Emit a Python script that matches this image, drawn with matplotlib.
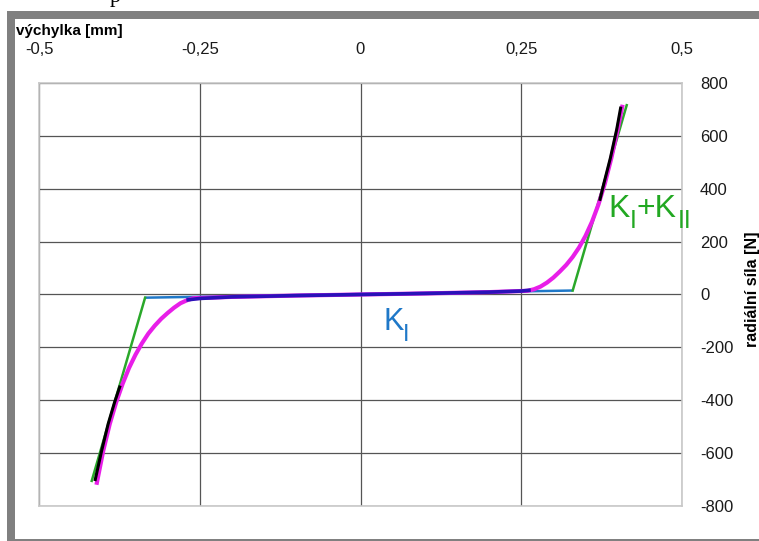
import matplotlib
matplotlib.use("Agg")
import matplotlib.pyplot as plt
import matplotlib.transforms as mtransforms
from matplotlib.patches import Rectangle

plt.rcParams['font.family'] = ['Liberation Sans', 'DejaVu Sans']
plt.rcParams['axes.unicode_minus'] = False

# --- data ---
x_ticks = [-0.5, -0.25, 0, 0.25, 0.5]
x_ticklabels = ['-0,5', '-0,25', '0', '0,25', '0,5']
y_ticks = [-800, -600, -400, -200, 0, 200, 400, 600, 800]
y_ticklabels = ['-800', '-600', '-400', '-200', '0', '200', '400', '600', '800']

# K_I (linear, blue)
ki_x = [-0.335, 0.33]
ki_y = [-12, 15]

# K_I + K_II (green, outer branches)
kii_left_x = [-0.418, -0.335]
kii_left_y = [-705, -12]
kii_right_x = [0.33, 0.414]
kii_right_y = [15, 716]

# smooth nonlinear characteristic (magenta)
mag_x = [-0.41, -0.40, -0.39, -0.38, -0.37, -0.36, -0.35, -0.34, -0.33, -0.32,
         -0.31, -0.30, -0.29, -0.28, -0.27, -0.26, -0.2, -0.1, 0.0, 0.1, 0.2,
         0.26, 0.27, 0.28, 0.29, 0.30, 0.31, 0.32, 0.33, 0.34, 0.35, 0.36,
         0.37, 0.38, 0.39, 0.40, 0.407]
mag_y = [-712, -590, -490, -408, -338, -278, -228, -185, -148, -118,
         -92, -70, -50, -33, -22, -14, -9, -4, 0, 4, 9,
         14, 20, 30, 45, 64, 87, 112, 142, 178, 222, 275,
         340, 420, 515, 625, 710]

# measured curve (black on the ends, navy in the middle)
meas_left_x = [-0.4125, -0.4025, -0.3925, -0.3825, -0.3745]
meas_left_y = [-700, -590, -490, -408, -350]
meas_mid_x = [-0.268, -0.25, -0.2, -0.1, 0.0, 0.1, 0.2, 0.25, 0.262]
meas_mid_y = [-20, -15, -9, -4, 0, 4, 9, 13, 16]
meas_right_x = [0.3725, 0.3785, 0.3885, 0.3985, 0.4045]
meas_right_y = [360, 420, 515, 625, 705]

W, H = 759, 541
fig = plt.figure(figsize=(W / 100, H / 100), dpi=100)
fig.patch.set_facecolor('white')

def px_rect(x0, y0, x1, y1):
    return Rectangle((x0 / W, 1 - y1 / H), (x1 - x0) / W, (y1 - y0) / H,
                     transform=fig.transFigure, facecolor='#808080',
                     edgecolor='none', zorder=0)

# grey frame around the picture
fig.add_artist(px_rect(7, 11, W, 19))
fig.add_artist(px_rect(7, 11, 15, H))
fig.add_artist(px_rect(7, 539, W, H))

# clipped letter of the text above
fig.text(110 / W, 1 - 2 / H, 'p', family='Liberation Serif', fontsize=16,
         ha='left', va='baseline', color='black')

ax = fig.add_axes([39 / W, 1 - 506 / H, (682 - 39) / W, (506 - 83) / H])
ax.set_xlim(-0.5, 0.5)
ax.set_ylim(-800, 800)

ax.plot(ki_x, ki_y, color='#1f78c8', lw=1.8, zorder=3, solid_capstyle='butt')
ax.plot(kii_left_x, kii_left_y, color='#2aa82a', lw=1.8, zorder=3)
ax.plot(kii_right_x, kii_right_y, color='#2aa82a', lw=1.8, zorder=3)
ax.plot(mag_x, mag_y, color='#e81ee8', lw=3, zorder=4)
ax.plot(meas_mid_x, meas_mid_y, color='#2a12b8', lw=2.6, zorder=5)
ax.plot(meas_left_x, meas_left_y, color='black', lw=2.2, zorder=5)
ax.plot(meas_right_x, meas_right_y, color='black', lw=2.2, zorder=5)

ax.xaxis.tick_top()
ax.yaxis.tick_right()
ax.set_xticks(x_ticks)
ax.set_xticklabels(x_ticklabels)
ax.set_yticks(y_ticks)
ax.set_yticklabels(y_ticklabels)
ax.tick_params(axis='x', length=0, pad=19, labelsize=12, labelcolor='#1a1a1a')
ax.tick_params(axis='y', length=0, pad=13, labelsize=12, labelcolor='#1a1a1a')
ax.grid(True, color='#555555', lw=0.9)
ax.set_axisbelow(True)
for s in ax.spines.values():
    s.set_color('#c8c8c8')
    s.set_linewidth(1.2)

# curve labels: main letter plus lowered subscript
def sub_text(x, y, dx, dy, s, size, color):
    tr = mtransforms.offset_copy(ax.transData, fig=fig, x=dx, y=dy, units='points')
    ax.text(x, y, s, transform=tr, fontsize=size, color=color,
            ha='left', va='baseline', zorder=6)

blue = '#1f78c8'
green = '#22a822'
sub_text(0.035, -133, 0, 0, 'K', 22, blue)
sub_text(0.035, -133, 14.5, -8.5, 'I', 17, blue)

sub_text(0.386, 295, 0, 0, 'K', 23, green)
sub_text(0.386, 295, 15, -8, 'I', 18, green)
sub_text(0.386, 295, 20, 0, '+K', 23, green)
sub_text(0.386, 295, 49.5, -8, 'II', 18, green)

fig.text(16 / W, 1 - 35 / H, 'výchylka [mm]', fontsize=11, fontweight='bold',
         ha='left', va='baseline')
fig.text(752 / W, 1 - 289 / H, 'radiální síla [N]', fontsize=11.5,
         fontweight='bold', rotation=90, ha='center', va='center')

fig.savefig('out.png', dpi=100)
